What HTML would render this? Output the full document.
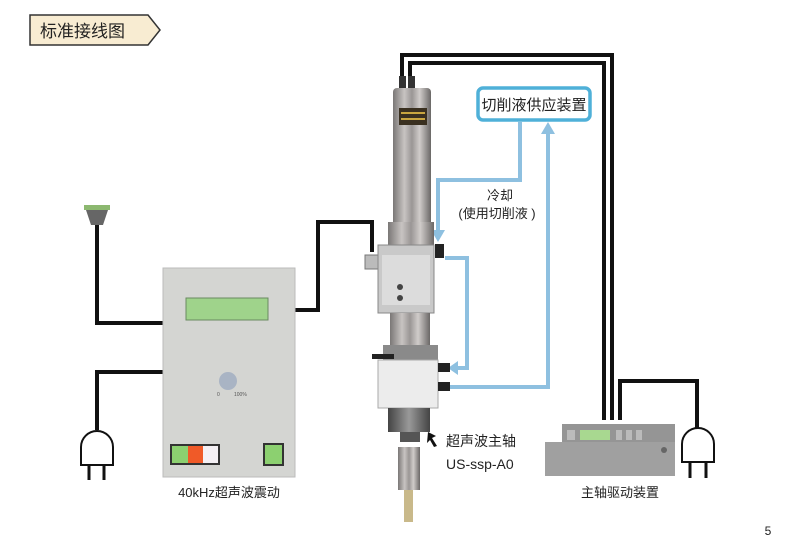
<!DOCTYPE html>
<html><head><meta charset="utf-8"><style>
html,body{margin:0;padding:0;background:#fff;}
svg{display:block;font-family:"Liberation Sans","Noto Sans CJK SC",sans-serif;}
</style></head><body>
<svg width="800" height="548" viewBox="0 0 800 548" xmlns="http://www.w3.org/2000/svg">
<defs>
<linearGradient id="metal" x1="0" x2="1" y1="0" y2="0">
<stop offset="0" stop-color="#7a7776"/><stop offset="0.3" stop-color="#c8c4c2"/><stop offset="0.5" stop-color="#9a9695"/><stop offset="0.7" stop-color="#d0ccca"/><stop offset="1" stop-color="#6a6766"/>
</linearGradient>
<linearGradient id="dark" x1="0" x2="1"><stop offset="0" stop-color="#444"/><stop offset="0.5" stop-color="#999"/><stop offset="1" stop-color="#444"/></linearGradient>
</defs>
<path d="M30 15 H148 L160 30 L148 45 H30 Z" fill="#f8ecd2" stroke="#333" stroke-width="1.5"/>
<text x="40" y="37" font-size="17" fill="#222">标准接线图</text>

<g fill="none" stroke="#111" stroke-width="4">
<polyline points="402,80 402,55 612,55 612,420"/>
<polyline points="410,80 410,63 604,63 604,420"/>
<polyline points="620,420 620,381 697,381 697,430"/>
<polyline points="295,310 318,310 318,222 372,222 372,252"/>
<polyline points="97,222 97,323 163,323"/>
<polyline points="163,372 97,372 97,430"/>
</g>

<g fill="none" stroke="#8ec0e0" stroke-width="4">
<polyline points="520,122 520,180 438,180 438,232"/>
<polyline points="445,258 467,258 467,368 455,368"/>
<polyline points="450,387 548,387 548,132"/>
</g>
<g fill="#8ec0e0">
<polygon points="431,230 445,230 438,242"/>
<polygon points="458,361 458,375 448,368"/>
<polygon points="541,134 555,134 548,122"/>
</g>
<rect x="478" y="88" width="112" height="32" rx="5" fill="#fff" stroke="#4fb0d8" stroke-width="3.5"/>
<text x="534" y="110" font-size="15" text-anchor="middle" fill="#222">切削液供应装置</text>
<text x="500" y="200" font-size="13" text-anchor="middle" fill="#222">冷却</text>
<text x="497" y="218" font-size="13" text-anchor="middle" fill="#222">(使用切削液 )</text>

<rect x="399" y="76" width="7" height="12" fill="#333"/>
<rect x="408" y="76" width="7" height="12" fill="#333"/>
<rect x="393" y="88" width="38" height="160" rx="4" fill="url(#metal)"/>
<rect x="399" y="108" width="28" height="17" fill="#3a3020"/>
<rect x="401" y="112" width="24" height="2" fill="#c9a640"/>
<rect x="401" y="118" width="24" height="2" fill="#c9a640"/>
<rect x="388" y="222" width="46" height="24" fill="url(#metal)"/>
<rect x="365" y="255" width="15" height="14" fill="#bbb" stroke="#777"/>
<rect x="378" y="245" width="56" height="68" fill="#c9c9c9" stroke="#888"/>
<rect x="382" y="255" width="48" height="50" fill="#dcdcdc"/>
<rect x="435" y="244" width="9" height="14" fill="#222"/>
<circle cx="400" cy="287" r="3" fill="#444"/><circle cx="400" cy="298" r="3" fill="#444"/>
<rect x="390" y="313" width="40" height="34" fill="url(#metal)"/>
<rect x="383" y="345" width="55" height="17" fill="#8a8a8a"/>
<rect x="372" y="354" width="22" height="5" fill="#222"/>
<rect x="378" y="360" width="60" height="48" fill="#ececec" stroke="#aaa"/>
<rect x="438" y="363" width="12" height="9" fill="#222"/>
<rect x="438" y="382" width="12" height="9" fill="#222"/>
<rect x="388" y="408" width="42" height="24" fill="url(#dark)"/>
<rect x="400" y="432" width="20" height="10" fill="#555"/>
<rect x="398" y="447" width="22" height="43" fill="url(#metal)"/>
<rect x="404" y="490" width="9" height="32" fill="#c9b98a"/>
<polygon points="428,432 436,436 432,438 437,446 434,447 430,440 427,443" fill="#111"/>
<text x="446" y="446" font-size="14" fill="#222">超声波主轴</text>
<text x="446" y="469" font-size="14" fill="#222">US-ssp-A0</text>

<rect x="163" y="268" width="132" height="209" fill="#d4d5d2" stroke="#bbb"/>
<rect x="186" y="298" width="82" height="22" fill="#9fd38b" stroke="#6a8a60"/>
<circle cx="228" cy="381" r="9" fill="#a9b4c4"/>
<text x="217" y="396" font-size="5" fill="#555">0</text><text x="234" y="396" font-size="5" fill="#555">100%</text>
<rect x="170" y="444" width="50" height="21" fill="#333"/>
<rect x="172" y="446" width="16" height="17" fill="#8cd070"/>
<rect x="188" y="446" width="15" height="17" fill="#f05a28"/>
<rect x="203" y="446" width="15" height="17" fill="#f4f0f4"/>
<rect x="264" y="444" width="19" height="21" fill="#8cd070" stroke="#333" stroke-width="2"/>
<text x="229" y="497" font-size="13" text-anchor="middle" fill="#222">40kHz超声波震动</text>

<rect x="84" y="205" width="26" height="5" fill="#8cb870"/>
<polygon points="86,210 108,210 103,225 91,225" fill="#666"/>

<g fill="#fff" stroke="#111" stroke-width="2">
<path d="M81 465 V447 A16 16 0 0 1 113 447 V465 Z"/>
<path d="M682 462 V444 A16 16 0 0 1 714 444 V462 Z"/>
</g>
<g stroke="#111" stroke-width="3">
<line x1="89" y1="465" x2="89" y2="480"/><line x1="104" y1="465" x2="104" y2="480"/>
<line x1="690" y1="462" x2="690" y2="478"/><line x1="706" y1="462" x2="706" y2="478"/>
</g>

<rect x="562" y="424" width="113" height="52" fill="#959595"/>
<rect x="545" y="442" width="130" height="34" fill="#a0a0a0"/>
<rect x="580" y="430" width="30" height="10" fill="#a8d890"/>
<rect x="567" y="430" width="8" height="10" fill="#bbb"/>
<rect x="616" y="430" width="6" height="10" fill="#bbb"/>
<rect x="626" y="430" width="6" height="10" fill="#bbb"/>
<rect x="636" y="430" width="6" height="10" fill="#bbb"/>
<circle cx="664" cy="450" r="3" fill="#666"/>
<text x="620" y="497" font-size="13" text-anchor="middle" fill="#222">主轴驱动装置</text>

<text x="768" y="535" font-size="12" text-anchor="middle" fill="#222">5</text>
</svg>
</body></html>
